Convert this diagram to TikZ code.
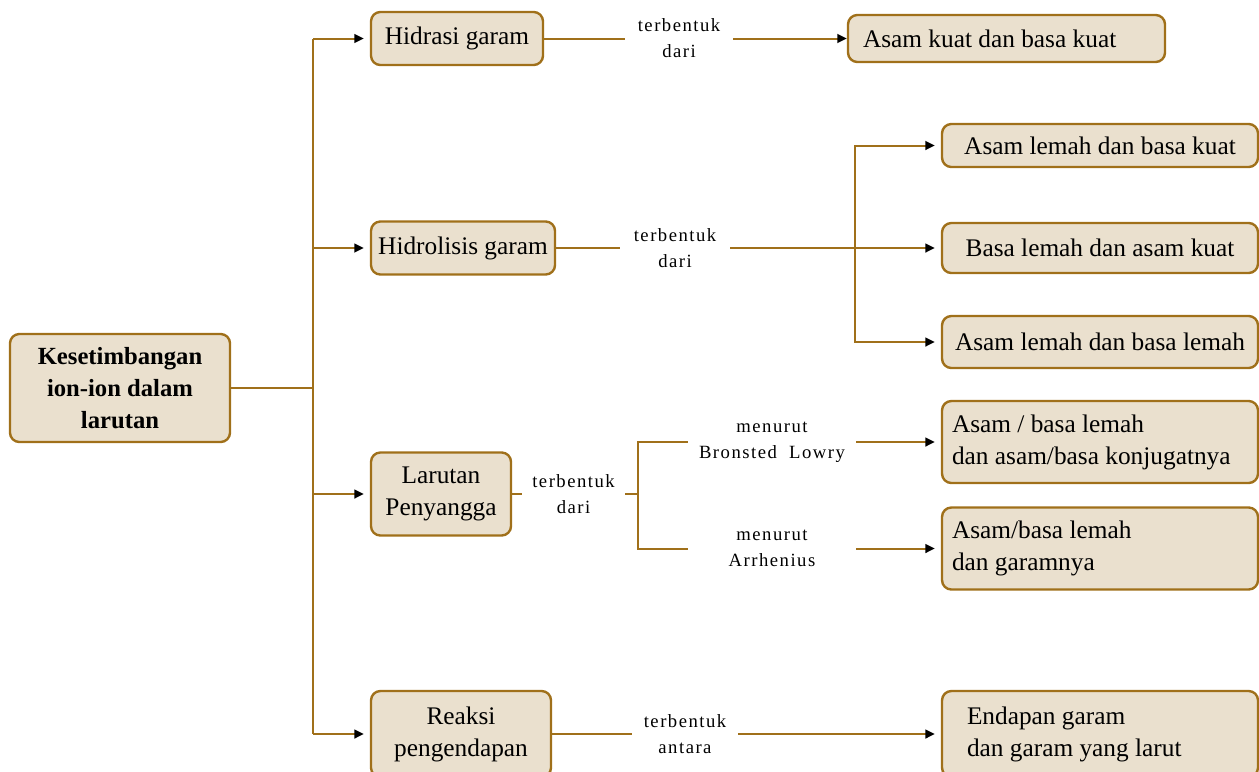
\documentclass[tikz,border=0pt]{standalone}
\usepackage{fontspec}
\setmainfont{Liberation Serif}
\newfontfamily\lblfont[LetterSpace=8]{Liberation Serif}
\usetikzlibrary{arrows.meta}
\definecolor{brn}{HTML}{A0701A}
\definecolor{bg}{HTML}{EAE0CE}
\tikzset{
  box/.style={draw=brn, fill=bg, line width=1.8pt, rounded corners=7pt,
    font=\fontsize{19}{24}\selectfont, inner sep=0pt, align=center},
  lbox/.style={box, align=flush left},
  lbl/.style={font=\lblfont\fontsize{14}{19.5}\selectfont, align=center, inner sep=0pt},
  conn/.style={draw=brn, line width=1.5pt},
  arr/.style={conn, -{Triangle[length=7pt,width=6.5pt,color=black]}, shorten >=4.5pt},
}
\begin{document}
\begin{tikzpicture}[x=0.75pt,y=-0.75pt]
\useasboundingbox (0,0) rectangle (1259,771);
% root
\node[box, font=\bfseries\fontsize{18.5}{24}\selectfont, minimum width=165pt, minimum height=81pt] (root) at (120,388) {Kesetimbangan\\ion-ion dalam\\larutan};
% middle boxes
\node[box, minimum width=129pt, minimum height=39.75pt] (h1) at (457,38.5) {Hidrasi garam};
\node[box, minimum width=138pt, minimum height=39.75pt] (h2) at (463,248) {Hidrolisis garam};
\node[box, minimum width=105pt, minimum height=62.25pt] (h3) at (441,494) {Larutan\\Penyangga};
\node[box, minimum width=135pt, minimum height=64.5pt] (h4) at (461,734) {Reaksi\\pengendapan};
% labels
\node[lbl, minimum width=81pt] (l1) at (679,38.5) {terbentuk\\dari};
\node[lbl, minimum width=82.5pt] (l2) at (675,248) {terbentuk\\dari};
\node[lbl, minimum width=77pt] (l3) at (573.5,494) {terbentuk\\dari};
\node[lbl, minimum width=126pt] (m1) at (772,442) {menurut\\Bronsted\ \ Lowry};
\node[lbl, minimum width=126pt] (m2) at (772,548.5) {menurut\\Arrhenius};
\node[lbl, minimum width=79.5pt] (l4) at (685,734) {terbentuk\\antara};
% right boxes
\node[lbox, text width=215.25pt, inner xsep=11.25pt, minimum height=35.25pt] (t1) at (1006.5,38.5) {Asam kuat dan basa kuat};
\node[box, minimum width=237pt, minimum height=32.25pt] (t21) at (1100,145.5) {Asam lemah dan basa kuat};
\node[box, minimum width=237pt, minimum height=37.5pt] (t22) at (1100,248) {Basa lemah dan asam kuat};
\node[box, minimum width=237pt, minimum height=39pt] (t23) at (1100,342) {Asam lemah dan basa lemah};
\node[lbox, text width=222pt, inner xsep=7.5pt, minimum height=61.5pt] (t31) at (1100,442) {Asam / basa lemah\\dan asam/basa konjugatnya};
\node[lbox, text width=222pt, inner xsep=7.5pt, minimum height=61.5pt] (t32) at (1100,548.5) {Asam/basa lemah\\dan garamnya};
\node[lbox, text width=199.5pt, inner xsep=18.75pt, minimum height=64.5pt] (t4) at (1100,734) {Endapan garam\\dan garam yang larut};
% trunk
\coordinate (tr) at (313,388);
\draw[conn] (root.east) -- (tr);
\draw[conn] (tr |- h1) -- (tr |- h4);
\draw[arr] (tr |- h1) -- (h1.west);
\draw[arr] (tr |- h2) -- (h2.west);
\draw[arr] (tr |- h3) -- (h3.west);
\draw[arr] (tr |- h4) -- (h4.west);
% hidrasi
\draw[conn] (h1.east) -- (l1.west);
\draw[arr, shorten >=0pt] (l1.east) -- (t1.west);
% hidrolisis
\coordinate (f2) at (855,248);
\draw[conn] (h2.east) -- (l2.west);
\draw[arr] (l2.east) -- (t22.west);
\draw[arr] (f2) |- (t21.west);
\draw[arr] (f2) |- (t23.west);
% penyangga
\coordinate (f3) at (638,494);
\draw[conn] (h3.east) -- (l3.west);
\draw[conn] (l3.east) -- (f3);
\draw[conn] (f3) |- (m1.west);
\draw[conn] (f3) |- (m2.west);
\draw[arr] (m1.east) -- (t31.west);
\draw[arr] (m2.east) -- (t32.west);
% pengendapan
\draw[conn] (h4.east) -- (l4.west);
\draw[arr] (l4.east) -- (t4.west);
\end{tikzpicture}
\end{document}
